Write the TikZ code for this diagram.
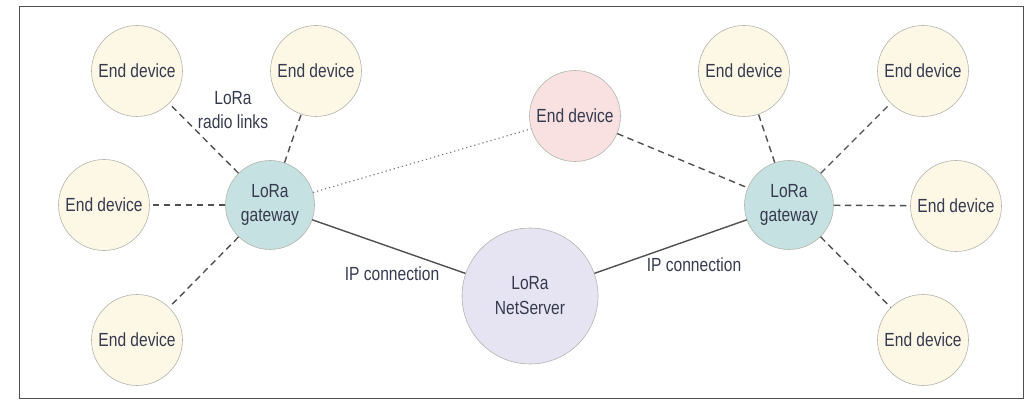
\documentclass[tikz,border=0pt]{standalone}
\usepackage{fontspec}
\setmainfont[FakeStretch=0.82]{Liberation Sans}
\begin{document}
\begin{tikzpicture}[x=1pt,y=-1pt,
  font=\fontsize{19}{24}\selectfont,
  txt/.style={text=textc, align=center},
  dev/.style={circle, draw=circb, line width=0.6pt, fill=devfill, minimum size=91pt, inner sep=0pt, txt},
  gw/.style={circle, draw=circb, line width=0.6pt, fill=gwfill, minimum size=89pt, inner sep=0pt, txt},
  radio/.style={draw=linec, line width=1.4pt, dash pattern=on 6.5pt off 4.5pt},
  ipl/.style={draw=linec, line width=1.4pt},
  dotl/.style={draw=linec!80, line width=1.1pt, dash pattern=on 1.2pt off 3pt}
]
\definecolor{textc}{HTML}{353A4F}
\definecolor{circb}{HTML}{B4B4AC}
\definecolor{devfill}{HTML}{FDF8E6}
\definecolor{gwfill}{HTML}{C6E1E1}
\definecolor{pinkfill}{HTML}{F9E1E1}
\definecolor{srvfill}{HTML}{E6E4F2}
\definecolor{linec}{HTML}{505050}
\definecolor{framec}{HTML}{505050}
\useasboundingbox (0,0) rectangle (1026,406);
\draw[framec, line width=1pt] (19,7) rectangle (1023,398);

\node[gw] (gl) at (270,205) {LoRa\\gateway};
\node[gw] (gr) at (789,205) {LoRa\\gateway};
\node[circle, draw=circb, line width=0.6pt, fill=srvfill, minimum size=136pt, inner sep=0pt, txt, font=\fontsize{19}{25}\selectfont] (srv) at (530,296) {LoRa\\NetServer};
\node[dev, fill=pinkfill] (pk) at (575,116) {End device};

\node[dev] (l1) at (137,71) {End device};
\node[dev] (l2) at (316,71) {End device};
\node[dev] (l3) at (104,205) {End device};
\node[dev] (l4) at (137,340) {End device};

\node[dev] (r1) at (744,71) {End device};
\node[dev] (r2) at (923,71) {End device};
\node[dev] (r3) at (956,206) {End device};
\node[dev] (r4) at (923,340) {End device};

\draw[radio] (gl) -- (l1);
\draw[radio] (gl) -- (l2);
\draw[radio] (gl) -- (l3);
\draw[radio] (gl) -- (l4);
\draw[radio] (gr) -- (r1);
\draw[radio] (gr) -- (r2);
\draw[radio] (gr) -- (r3);
\draw[radio] (gr) -- (r4);
\draw[radio] (pk) -- (gr);
\draw[dotl] (gl) -- (pk);
\draw[ipl] (gl) -- (srv);
\draw[ipl] (srv) -- (gr);

\node[txt] (radiolbl) at (233,110) {LoRa\\radio links};
\node[txt] (ipl1) at (392,274) {IP connection};
\node[txt] (ipl2) at (694,265) {IP connection};
\end{tikzpicture}
\end{document}
